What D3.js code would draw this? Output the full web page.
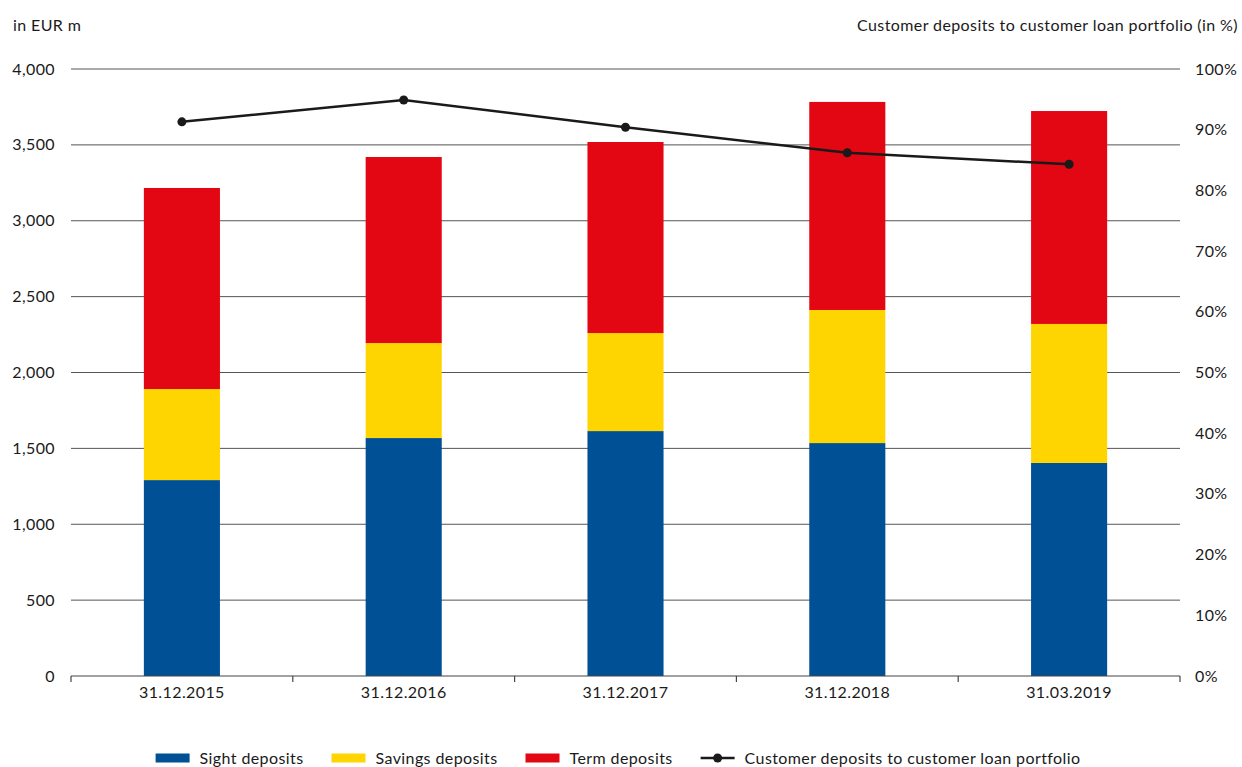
<!DOCTYPE html>
<html>
<head>
<meta charset="utf-8">
<script src="https://cdn.jsdelivr.net/npm/d3@7"></script>
<style>
  body { margin: 0; background: #fff; }
  svg text { font-family: Lato, "Open Sans", sans-serif; fill: #1a1a1a; font-size: 16px; letter-spacing: 0.4px; }
</style>
</head>
<body>
<svg id="chart" width="1242" height="767"></svg>
<script>
"use strict";

// --- data ---
const categories = ["31.12.2015", "31.12.2016", "31.12.2017", "31.12.2018", "31.03.2019"]
const sightDeposits   = [1291, 1568, 1614, 1535, 1404]
const savingsDeposits = [600, 626, 646, 877, 916]
const termDeposits    = [1325, 1226, 1259, 1371, 1403]
const ratioPct        = [91.3, 94.9, 90.4, 86.2, 84.3]
const leftTicks  = [0, 500, 1000, 1500, 2000, 2500, 3000, 3500, 4000]
const rightTicks = [0, 10, 20, 30, 40, 50, 60, 70, 80, 90, 100]

const seriesNames  = ["Sight deposits", "Savings deposits", "Term deposits"]
const seriesColors = ["#005096", "#fed500", "#e30613"]
const lineName = "Customer deposits to customer loan portfolio"

const svg = d3.select("#chart")
const plotLeft = 71, plotRight = 1180, plotTop = 69, plotBottom = 676

const x = d3.scaleBand().domain(categories).range([plotLeft, plotRight]).paddingInner(0.657).paddingOuter(0.3285)
const y = d3.scaleLinear().domain([0, 4000]).range([plotBottom, plotTop])
const y2 = d3.scaleLinear().domain([0, 100]).range([plotBottom, plotTop])

// gridlines
svg.append("g")
    .selectAll("line")
    .data(leftTicks.filter(d => d > 0))
    .enter().append("line")
    .attr("x1", plotLeft).attr("x2", plotRight)
    .attr("y1", d => y(d)).attr("y2", d => y(d))
    .style("stroke", "#555")
    .style("stroke-width", 1)

// left tick labels
svg.append("g")
    .selectAll("text")
    .data(leftTicks)
    .enter().append("text")
    .attr("x", 55)
    .attr("y", d => y(d) + 5.5)
    .attr("text-anchor", "end")
    .text(d => d3.format(",")(d))

// right tick labels
svg.append("g")
    .selectAll("text")
    .data(rightTicks)
    .enter().append("text")
    .attr("x", 1195)
    .attr("y", d => y2(d) + 5.5)
    .text(d => d + "%")

// axis titles
svg.append("text").attr("x", 13).attr("y", 31).text("in EUR m")
svg.append("text").attr("x", 1238).attr("y", 31).attr("text-anchor", "end")
    .text("Customer deposits to customer loan portfolio (in %)")

// stacked bars
const rows = categories.map((c, i) => ({cat: c, s0: sightDeposits[i], s1: savingsDeposits[i], s2: termDeposits[i]}))
const stack = d3.stack().keys(["s0", "s1", "s2"])(rows)

svg.append("g")
    .selectAll("g")
    .data(stack)
    .enter().append("g")
    .style("fill", (d, i) => seriesColors[i])
    .selectAll("rect")
    .data(d => d)
    .enter().append("rect")
    .attr("x", d => x(d.data.cat))
    .attr("width", x.bandwidth())
    .attr("y", d => y(d[1]))
    .attr("height", d => y(d[0]) - y(d[1]))

// x axis
const xAxis = svg.append("g").attr("transform", "translate(0," + plotBottom + ")")
xAxis.append("line").attr("x1", plotLeft).attr("x2", plotRight).style("stroke", "#444").style("stroke-width", 1.2)
const step = x.step()
const tickXs = d3.range(0, categories.length + 1).map(i => plotLeft + i * step)
xAxis.selectAll("line.tick")
    .data(tickXs)
    .enter().append("line")
    .attr("class", "tick")
    .attr("x1", d => d).attr("x2", d => d)
    .attr("y1", 0).attr("y2", 6)
    .style("stroke", "#444").style("stroke-width", 1.2)
xAxis.selectAll("text")
    .data(categories)
    .enter().append("text")
    .attr("x", d => x(d) + x.bandwidth() / 2)
    .attr("y", 22)
    .attr("text-anchor", "middle")
    .text(d => d)

// ratio line
const cx = (d, i) => x(categories[i]) + x.bandwidth() / 2
const line = d3.line().x(cx).y(d => y2(d))
svg.append("path")
    .datum(ratioPct)
    .attr("d", line)
    .style("fill", "none")
    .style("stroke", "#1a1a1a")
    .style("stroke-width", 2.5)
svg.append("g")
    .selectAll("circle")
    .data(ratioPct)
    .enter().append("circle")
    .attr("cx", cx)
    .attr("cy", d => y2(d))
    .attr("r", 4.5)
    .style("fill", "#1a1a1a")

// legend
const legend = svg.append("g")
let lx = 0
const ly = 758
const items = seriesNames.map((n, i) => ({name: n, color: seriesColors[i], type: "rect"}))
items.push({name: lineName, type: "line"})
items.forEach(it => {
    const g = legend.append("g").attr("transform", "translate(" + lx + ",0)")
    if (it.type === "rect") {
        g.append("rect").attr("x", 0).attr("y", ly - 4.5).attr("width", 34).attr("height", 9).style("fill", it.color)
    } else {
        g.append("line").attr("x1", 0).attr("x2", 34).attr("y1", ly).attr("y2", ly)
            .style("stroke", "#1a1a1a").style("stroke-width", 2.5)
        g.append("circle").attr("cx", 17).attr("cy", ly).attr("r", 4.5).style("fill", "#1a1a1a")
    }
    const t = g.append("text").attr("x", 44).attr("y", ly + 5.5).text(it.name)
    lx += 44 + t.node().getComputedTextLength() + 28
})
const legendWidth = lx - 28
legend.attr("transform", "translate(" + (618 - legendWidth / 2) + ",0)")
</script>
</body>
</html>
